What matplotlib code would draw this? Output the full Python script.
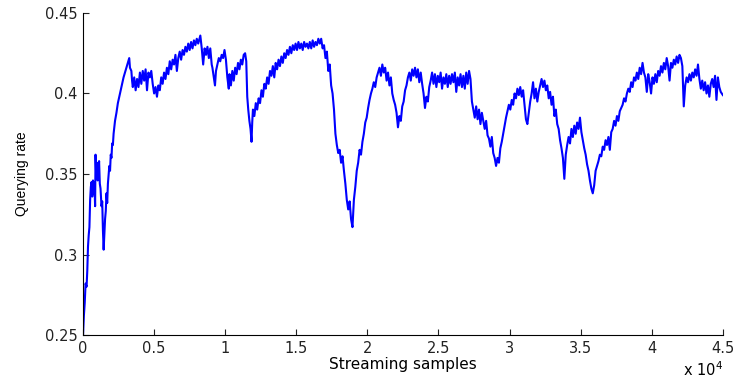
import numpy as np
import matplotlib
matplotlib.use('Agg')
import matplotlib.pyplot as plt

#Querying rate, as (sample index, rate) pairs

#initial rise
seg_rise = [(0, 0.250), (60, 0.262), (120, 0.270), (180, 0.282), (250, 0.280),
            (300, 0.290), (350, 0.305), (400, 0.312), (450, 0.317), (500, 0.334),
            (550, 0.342), (600, 0.345), (650, 0.336), (700, 0.346), (750, 0.338),
            (800, 0.345), (850, 0.330), (880, 0.362), (930, 0.348), (980, 0.357),
            (1030, 0.346), (1080, 0.352), (1130, 0.358), (1180, 0.344), (1230, 0.341),
            (1300, 0.330), (1350, 0.333), (1400, 0.315), (1450, 0.303), (1500, 0.312),
            (1550, 0.322), (1600, 0.327), (1650, 0.338), (1700, 0.332), (1750, 0.344),
            (1850, 0.355), (1900, 0.352), (1950, 0.362), (2000, 0.360), (2050, 0.369),
            (2100, 0.368), (2150, 0.375), (2250, 0.383), (2350, 0.388), (2450, 0.394),
            (2550, 0.398), (2650, 0.402), (2750, 0.406), (2850, 0.410), (2950, 0.413),
            (3050, 0.416), (3150, 0.419), (3250, 0.422), (3300, 0.416), (3400, 0.414),
            (3450, 0.408)]

#first plateau up to the peak near 8200
seg_plateau1 = [(3500, 0.404), (3600, 0.410), (3700, 0.402), (3800, 0.409), (3900, 0.404),
                (4000, 0.413), (4100, 0.406), (4200, 0.414), (4300, 0.408), (4400, 0.415),
                (4500, 0.402), (4600, 0.413), (4700, 0.410), (4800, 0.414), (4900, 0.406),
                (5000, 0.400), (5100, 0.404), (5200, 0.398), (5300, 0.405), (5400, 0.402),
                (5500, 0.410), (5600, 0.406), (5700, 0.413), (5800, 0.409), (5900, 0.416),
                (6000, 0.412), (6100, 0.420), (6200, 0.415), (6300, 0.421), (6400, 0.418),
                (6500, 0.424), (6600, 0.414), (6700, 0.422), (6800, 0.426), (6900, 0.421),
                (7000, 0.427), (7100, 0.424), (7200, 0.429), (7300, 0.426), (7400, 0.431),
                (7500, 0.427), (7600, 0.432), (7700, 0.428), (7800, 0.433), (7900, 0.430),
                (8000, 0.434), (8100, 0.431), (8250, 0.436), (8350, 0.428), (8450, 0.418)]

#dip near 12000 and climb to 17000
seg_dip1 = [(8550, 0.428), (8650, 0.424), (8750, 0.429), (8850, 0.422), (8950, 0.428),
            (9050, 0.418), (9100, 0.416), (9200, 0.410), (9280, 0.405), (9350, 0.414),
            (9450, 0.418), (9550, 0.422), (9650, 0.420), (9750, 0.424), (9850, 0.422),
            (9950, 0.427), (10050, 0.421), (10150, 0.410), (10250, 0.403), (10300, 0.412),
            (10400, 0.405), (10500, 0.414), (10600, 0.408), (10700, 0.416), (10800, 0.412),
            (10900, 0.419), (11000, 0.415), (11100, 0.421), (11200, 0.418), (11300, 0.424),
            (11400, 0.425), (11480, 0.420), (11550, 0.398), (11620, 0.390), (11700, 0.383),
            (11780, 0.378), (11850, 0.370), (11900, 0.382), (11950, 0.390), (12050, 0.386),
            (12150, 0.394), (12250, 0.390), (12350, 0.397), (12450, 0.394), (12550, 0.402),
            (12650, 0.398), (12750, 0.406), (12850, 0.403), (12950, 0.410), (13050, 0.406),
            (13150, 0.414), (13250, 0.411), (13350, 0.417), (13450, 0.410), (13550, 0.419),
            (13650, 0.415), (13750, 0.421), (13850, 0.417), (13950, 0.423), (14050, 0.419),
            (14150, 0.425), (14250, 0.422), (14350, 0.427), (14450, 0.424), (14550, 0.429),
            (14650, 0.425), (14750, 0.430), (14850, 0.427), (14950, 0.431), (15050, 0.427),
            (15150, 0.432), (15250, 0.428), (15350, 0.431), (15450, 0.427), (15550, 0.432),
            (15650, 0.429), (15750, 0.431), (15850, 0.428), (15950, 0.432), (16050, 0.428),
            (16150, 0.433), (16250, 0.429), (16350, 0.432), (16450, 0.430), (16550, 0.434),
            (16650, 0.431), (16750, 0.434), (16850, 0.428)]

#deep dip near 19000
seg_dip2 = [(16950, 0.430), (17050, 0.422), (17150, 0.426), (17250, 0.414), (17350, 0.418),
            (17450, 0.405), (17550, 0.400), (17650, 0.390), (17750, 0.375), (17850, 0.368),
            (17950, 0.363), (18050, 0.365), (18150, 0.357), (18250, 0.361), (18350, 0.352),
            (18450, 0.344), (18550, 0.334), (18650, 0.328), (18750, 0.333), (18850, 0.322),
            (18950, 0.317), (19050, 0.334), (19150, 0.342), (19250, 0.352), (19350, 0.357),
            (19450, 0.365), (19550, 0.362), (19650, 0.370), (19750, 0.375), (19850, 0.382),
            (19950, 0.385), (20050, 0.391), (20150, 0.396), (20250, 0.400), (20350, 0.403),
            (20450, 0.407), (20550, 0.404), (20650, 0.410), (20750, 0.413), (20850, 0.416),
            (20950, 0.411), (21050, 0.418), (21150, 0.413), (21250, 0.416), (21350, 0.408),
            (21450, 0.413), (21550, 0.405), (21650, 0.410), (21750, 0.400), (21850, 0.396),
            (21950, 0.393), (22050, 0.388), (22150, 0.379), (22250, 0.386), (22350, 0.383),
            (22450, 0.392), (22550, 0.395), (22650, 0.402), (22750, 0.405), (22850, 0.410)]

#second plateau and dip near 29000
seg_plateau2 = [(22950, 0.413), (23050, 0.408), (23150, 0.415), (23250, 0.411), (23350, 0.416),
                (23450, 0.410), (23550, 0.415), (23650, 0.407), (23750, 0.413), (23850, 0.406),
                (23950, 0.400), (24050, 0.391), (24150, 0.398), (24250, 0.395), (24350, 0.404),
                (24450, 0.408), (24550, 0.413), (24650, 0.406), (24750, 0.412), (24850, 0.404),
                (24950, 0.411), (25050, 0.407), (25150, 0.413), (25250, 0.403), (25350, 0.410),
                (25450, 0.406), (25550, 0.412), (25650, 0.404), (25750, 0.411), (25850, 0.406),
                (25950, 0.412), (26050, 0.407), (26150, 0.413), (26250, 0.401), (26350, 0.410),
                (26450, 0.405), (26550, 0.412), (26650, 0.404), (26750, 0.411), (26850, 0.403),
                (26950, 0.413), (27050, 0.406), (27150, 0.414), (27250, 0.409), (27350, 0.395),
                (27450, 0.390), (27550, 0.385), (27650, 0.392), (27750, 0.384), (27850, 0.390),
                (27950, 0.381), (28050, 0.388), (28150, 0.383), (28250, 0.378), (28350, 0.383),
                (28450, 0.374), (28550, 0.372), (28650, 0.367), (28750, 0.373), (28850, 0.363),
                (28950, 0.360), (29050, 0.355), (29150, 0.360), (29250, 0.357), (29350, 0.366),
                (29450, 0.370), (29550, 0.375), (29650, 0.380), (29750, 0.385), (29850, 0.389)]

#bumps and dip near 36000
seg_dip3 = [(29950, 0.393), (30050, 0.390), (30150, 0.396), (30250, 0.393), (30350, 0.400),
            (30450, 0.397), (30550, 0.403), (30650, 0.399), (30750, 0.404), (30850, 0.398),
            (30950, 0.402), (31050, 0.393), (31150, 0.384), (31250, 0.381), (31350, 0.388),
            (31450, 0.395), (31550, 0.400), (31650, 0.407), (31750, 0.397), (31850, 0.403),
            (31950, 0.395), (32050, 0.401), (32150, 0.405), (32250, 0.409), (32350, 0.404),
            (32450, 0.408), (32550, 0.402), (32650, 0.405), (32750, 0.397), (32850, 0.401),
            (32950, 0.393), (33050, 0.398), (33150, 0.386), (33250, 0.390), (33350, 0.381),
            (33450, 0.378), (33550, 0.371), (33650, 0.366), (33750, 0.360), (33850, 0.347),
            (33950, 0.362), (34050, 0.368), (34150, 0.373), (34250, 0.369), (34350, 0.378),
            (34450, 0.373), (34550, 0.380), (34650, 0.375), (34750, 0.382), (34850, 0.378),
            (34950, 0.385), (35050, 0.376), (35150, 0.371), (35250, 0.366), (35350, 0.362),
            (35450, 0.356), (35550, 0.352), (35650, 0.346), (35750, 0.341), (35850, 0.338),
            (35950, 0.343), (36050, 0.352), (36150, 0.355), (36250, 0.358), (36350, 0.362),
            (36450, 0.361), (36550, 0.367), (36650, 0.365), (36750, 0.371), (36850, 0.368)]

#final climb and plateau
seg_end = [(36950, 0.373), (37050, 0.365), (37150, 0.376), (37250, 0.378), (37350, 0.383),
           (37450, 0.380), (37550, 0.386), (37650, 0.383), (37750, 0.389), (37850, 0.391),
           (37950, 0.393), (38050, 0.397), (38150, 0.395), (38250, 0.400), (38350, 0.403),
           (38450, 0.401), (38550, 0.407), (38650, 0.404), (38750, 0.410), (38850, 0.408),
           (38950, 0.413), (39050, 0.409), (39150, 0.416), (39250, 0.412), (39350, 0.419),
           (39450, 0.413), (39550, 0.410), (39650, 0.401), (39750, 0.412), (39850, 0.407),
           (39950, 0.400), (40050, 0.410), (40150, 0.406), (40250, 0.412), (40350, 0.407),
           (40450, 0.414), (40550, 0.411), (40650, 0.417), (40750, 0.413), (40850, 0.419),
           (40950, 0.415), (41050, 0.422), (41150, 0.417), (41250, 0.408), (41350, 0.419),
           (41450, 0.416), (41550, 0.421), (41650, 0.418), (41750, 0.423), (41850, 0.419),
           (41950, 0.424), (42050, 0.422), (42150, 0.417), (42250, 0.392), (42350, 0.405),
           (42450, 0.410), (42550, 0.407), (42650, 0.412), (42750, 0.408), (42850, 0.413),
           (42950, 0.410), (43050, 0.415), (43150, 0.411), (43250, 0.418), (43350, 0.409),
           (43450, 0.403), (43550, 0.408), (43650, 0.402), (43750, 0.407), (43850, 0.400),
           (43950, 0.405), (44050, 0.398), (44150, 0.406), (44250, 0.409), (44350, 0.404),
           (44450, 0.411), (44550, 0.396), (44650, 0.410), (44750, 0.404), (44850, 0.401),
           (45000, 0.399)]

xtick_pos = [0, 5000, 10000, 15000, 20000, 25000, 30000, 35000, 40000, 45000]
xtick_lab = ['0', '0.5', '1', '1.5', '2', '2.5', '3', '3.5', '4', '4.5']
ytick_pos = [0.25, 0.3, 0.35, 0.4, 0.45]
ytick_lab = ['0.25', '0.3', '0.35', '0.4', '0.45']

data = np.array(seg_rise + seg_plateau1 + seg_dip1 + seg_dip2 +
                seg_plateau2 + seg_dip3 + seg_end)
samples = data[:, 0]
rate = data[:, 1]

plt.rcParams['font.family'] = ['DejaVu Sans']

fig = plt.figure(figsize=(7.38, 3.82), dpi=100)
ax = fig.add_axes([0.1125, 0.123, 0.867, 0.843])

ax.plot(samples, rate, color='#0000ff', linewidth=1.5)

ax.set_xlim(0, 45000)
ax.set_ylim(0.25, 0.45)
ax.set_xticks(xtick_pos)
ax.set_xticklabels(xtick_lab)
ax.set_yticks(ytick_pos)
ax.set_yticklabels(ytick_lab)
ax.tick_params(direction='in', length=4, labelsize=10.5, pad=4, colors='#222222')

ax.spines['top'].set_visible(False)
ax.spines['right'].set_visible(False)

ax.set_xlabel('Streaming samples', fontsize=11, labelpad=1)
ax.set_ylabel('Querying rate', fontsize=10, labelpad=11,
              family=['Liberation Sans Narrow', 'Liberation Sans', 'DejaVu Sans'])
ax.text(1.0, -0.08, r'x 10$^4$', transform=ax.transAxes, ha='right', va='top', fontsize=10.5)

fig.savefig('out.png', dpi=100)
